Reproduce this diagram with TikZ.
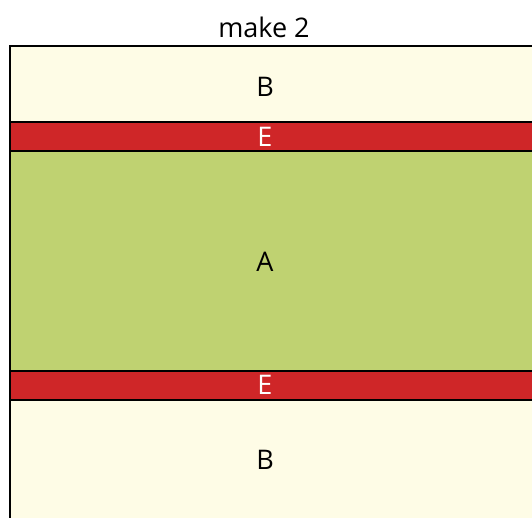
\documentclass[tikz,border=0pt]{standalone}
\usepackage{fontspec}
\setmainfont{Open Sans}
\usetikzlibrary{calc}

\definecolor{bcream}{HTML}{FEFCE6}
\definecolor{ered}{HTML}{CF2628}
\definecolor{agreen}{HTML}{BFD271}

\begin{document}
\begin{tikzpicture}[x=1pt,y=-1pt,font=\fontsize{27}{32}\selectfont]
  \useasboundingbox (0,0) rectangle (532,517);
  \clip (0,0) rectangle (532,517);

  \coordinate (L0) at (10,46);
  \coordinate (L1) at (10,122);
  \coordinate (L2) at (10,151);
  \coordinate (L3) at (10,371);
  \coordinate (L4) at (10,400);
  \coordinate (L5) at (10,530);
  \coordinate (R0) at (540,46);
  \coordinate (R1) at (540,122);
  \coordinate (R2) at (540,151);
  \coordinate (R3) at (540,371);
  \coordinate (R4) at (540,400);
  \coordinate (R5) at (540,530);

  \path[fill=bcream] (L0) rectangle (R1);
  \path[fill=ered] (L1) rectangle (R2);
  \path[fill=agreen] (L2) rectangle (R3);
  \path[fill=ered] (L3) rectangle (R4);
  \path[fill=bcream] (L4) rectangle (R5);
  \draw[line width=1.5pt] (L5) -- (L0) -- (R0);
  \draw[line width=1.5pt] (L1) -- (R1);
  \draw[line width=1.5pt] (L2) -- (R2);
  \draw[line width=1.5pt] (L3) -- (R3);
  \draw[line width=1.5pt] (L4) -- (R4);

  \node (title) at (264,27) {make 2};
  \node (B1) at (265,87) {B};
  \node[text=white] (E1) at (265,137) {E};
  \node (A) at (265,262) {A};
  \node[text=white] (E2) at (265,385) {E};
  \node (B2) at (265,460) {B};
\end{tikzpicture}
\end{document}
